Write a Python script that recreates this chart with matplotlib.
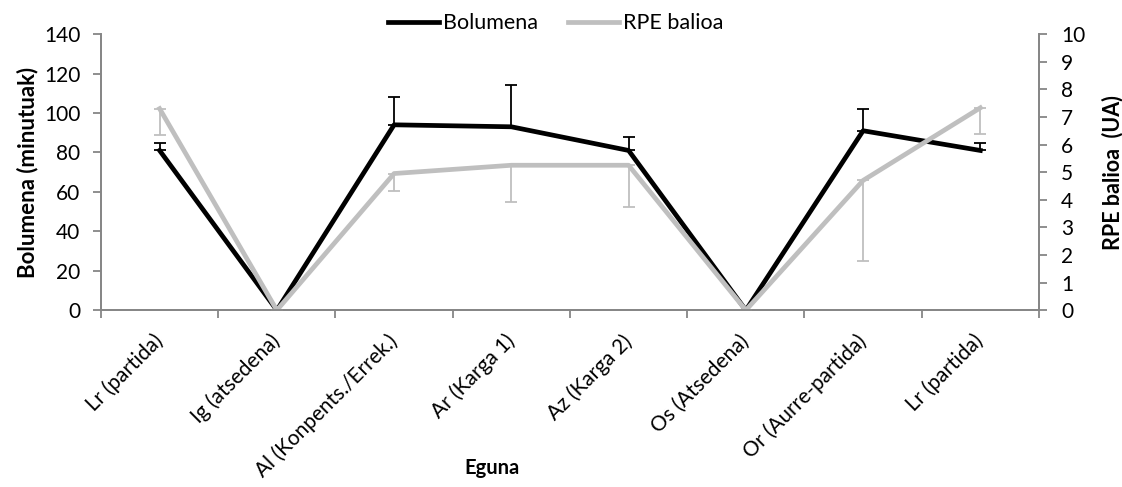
import matplotlib
matplotlib.use("Agg")
import matplotlib.pyplot as plt
import numpy as np

plt.rcParams['font.family'] = ['Lato', 'DejaVu Sans']

days = ['Lr (partida)', 'Ig (atsedena)', 'Al (Konpents./Errek.)', 'Ar (Karga 1)',
        'Az (Karga 2)', 'Os (Atsedena)', 'Or (Aurre-partida)', 'Lr (partida)']

# bolumena (minutuak) eta desbideratzea (gorantz)
volume = [81, 0, 94, 93, 81, 0, 91, 81]
volume_err = [4, 0, 14, 21, 7, 0, 11, 4]

# RPE balioa (UA) eta desbideratzea (beherantz)
rpe = [7.3, 0, 4.95, 5.25, 5.25, 0, 4.7, 7.33]
rpe_err = [0.95, 0, 0.65, 1.33, 1.53, 0, 2.9, 0.96]

gray_axis = "#868686"
x = np.arange(len(days))

fig, ax = plt.subplots(figsize=(11.22, 4.87), dpi=100)
fig.subplots_adjust(left=0.09, right=0.926, top=0.93, bottom=0.363)
ax2 = ax.twinx()

ax.errorbar(x, volume, yerr=[np.zeros(len(volume)), volume_err], color="black", lw=3.4,
            elinewidth=1.3, capsize=4.5, capthick=1.3, label="Bolumena")
ax2.errorbar(x, rpe, yerr=[rpe_err, np.zeros(len(rpe))], color="#BFBFBF", lw=3.4,
             elinewidth=1.3, capsize=4.5, capthick=1.3, label="RPE balioa")

ax.set_xlim(-0.5, len(days) - 0.5)
ax.set_ylim(0, 140)
ax.set_yticks(np.arange(0, 141, 20))
ax2.set_ylim(0, 10)
ax2.set_yticks(np.arange(0, 11, 1))

# tick marks between categories, labels at the centres
ax.set_xticks(np.arange(-0.5, len(days), 1))
ax.set_xticklabels([])
ax.set_xticks(x, minor=True)
ax.set_xticklabels(days, minor=True, rotation=45, ha="right", va="center",
                   rotation_mode="anchor", fontsize=15)
ax.tick_params(axis="x", which="minor", length=0, pad=20)
ax.tick_params(axis="x", which="major", length=6, color=gray_axis, width=1.3)

for a in (ax, ax2):
    a.spines["top"].set_visible(False)
    for s in ("left", "right", "bottom"):
        a.spines[s].set_color(gray_axis)
        a.spines[s].set_linewidth(1.3)
    a.tick_params(axis="y", length=6, color=gray_axis, width=1.3, labelsize=15)
ax.tick_params(axis="y", pad=9)
ax2.tick_params(axis="y", pad=10)

ax.set_ylabel("Bolumena (minutuak)", fontsize=16, fontweight="bold", labelpad=4)
ax2.set_ylabel("RPE balioa  (UA)", fontsize=15.5, fontweight="bold", rotation=90, labelpad=12)
ax.set_xlabel("Eguna", fontsize=14.5, fontweight="bold")
ax.xaxis.set_label_coords(0.417, -0.535)

h1 = [plt.Line2D([], [], color="black", lw=3.4)]
h2 = [plt.Line2D([], [], color="#BFBFBF", lw=3.4)]
fig.legend(h1 + h2, ["Bolumena", "RPE balioa"], loc="center", bbox_to_anchor=(0.495, 0.952), ncol=2,
           frameon=False, fontsize=15.5, handlelength=2.4, handletextpad=0.15, columnspacing=1.4)

plt.savefig("out.png", dpi=100)
